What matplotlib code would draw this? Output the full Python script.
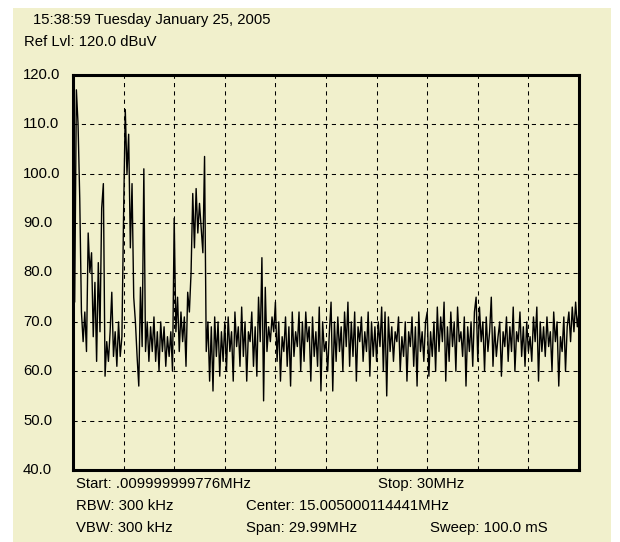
import matplotlib.pyplot as plt
import numpy as np
from matplotlib.patches import Rectangle
from matplotlib.transforms import blended_transform_factory

# Sweep settings (MHz)
start_mhz = 0.0
stop_mhz = 30.0
step_mhz = 0.1

# Trace amplitude (dBuV), one value per 0.1 MHz
trace_0_3 = [94, 74, 117, 110, 95, 72, 66, 72, 64, 88,
             80, 84, 67, 78, 62, 82, 68, 93, 98, 59,
             66, 62, 68, 76, 63, 68, 61, 70, 63, 67]
trace_3_6 = [92, 113, 100, 108, 85, 98, 75, 70, 63, 57,
             77, 65, 101, 64, 70, 62, 69, 64, 71, 62,
             68, 60, 70, 64, 69, 61, 67, 63, 68, 60]
trace_6_9 = [91, 68, 75, 64, 72, 66, 71, 61, 76, 72,
             80, 96, 85, 97, 88, 94, 89, 84, 103.5, 64,
             70, 58, 69, 56, 71, 63, 70, 59, 68, 62]
trace_9_12 = [70, 60, 71, 64, 68, 58, 72, 65, 69, 61,
              73, 63, 70, 58, 68, 66, 72, 61, 69, 59,
              75, 66, 83, 54, 77, 64, 69, 66, 71, 68]
trace_12_15 = [74, 62, 70, 58, 67, 64, 71, 61, 69, 57,
               72, 63, 68, 65, 72, 60, 70, 62, 72, 66,
               69, 58, 71, 63, 68, 61, 73, 56, 70, 64]
trace_15_18 = [66, 60, 68, 74, 56, 70, 62, 71, 64, 69,
               60, 72, 65, 74, 61, 70, 63, 72, 58, 69,
               66, 71, 62, 68, 64, 72, 59, 70, 63, 69]
trace_18_21 = [62, 70, 65, 73, 60, 72, 55, 71, 64, 69,
               62, 68, 66, 71, 60, 67, 63, 70, 58, 68,
               65, 71, 61, 69, 57, 72, 64, 68, 62, 70]
trace_21_24 = [72, 59, 68, 63, 70, 60, 73, 64, 71, 66,
               74, 58, 69, 62, 72, 65, 70, 60, 73, 66,
               68, 63, 71, 57, 69, 64, 70, 61, 72, 75]
trace_24_27 = [62, 73, 66, 70, 60, 71, 64, 68, 75, 61,
               69, 63, 67, 70, 59, 68, 65, 71, 62, 69,
               64, 73, 60, 68, 66, 72, 63, 69, 61, 70]
trace_27_30 = [64, 67, 62, 71, 66, 73, 58, 70, 64, 69,
               63, 71, 65, 68, 60, 72, 66, 70, 57, 67,
               64, 71, 60, 69, 72, 66, 73, 68, 74, 69, 72]

amplitude = np.array(trace_0_3 + trace_3_6 + trace_6_9 + trace_9_12 + trace_12_15
                     + trace_15_18 + trace_18_21 + trace_21_24 + trace_24_27 + trace_27_30)
freq = np.arange(len(amplitude)) * step_mhz + start_mhz

# Axis ticks
x_ticks = np.arange(0, 31, 3)
y_ticks = [40, 50, 60, 70, 80, 90, 100, 110, 120]

# Screen text
header_lines = ["15:38:59 Tuesday January 25, 2005", "Ref Lvl: 120.0 dBuV"]
footer_text = [
    ("Start: .009999999776MHz", 76, 484),
    ("Stop: 30MHz", 378, 484),
    ("RBW: 300 kHz", 76, 506),
    ("Center: 15.005000114441MHz", 246, 506),
    ("VBW: 300 kHz", 76, 528),
    ("Span: 29.99MHz", 246, 528),
    ("Sweep: 100.0 mS", 430, 528),
]

beige = '#f1f0cc'
W, H = 620, 542
plt.rcParams['font.family'] = ['Liberation Sans', 'DejaVu Sans']
fsize = 10.7

fig = plt.figure(figsize=(W / 100, H / 100), dpi=100, facecolor='white')
# beige instrument panel behind everything
fig.patches.append(Rectangle((13 / W, 0), 598 / W, 1 - 8 / H, transform=fig.transFigure,
                             facecolor=beige, edgecolor='none', zorder=-10))

ax = fig.add_axes([73 / W, 1 - 470 / H, 506 / W, 395 / H])
ax.set_zorder(1)
ax.set_facecolor(beige)
ax.plot(freq, amplitude, color='black', linewidth=1.0)

ax.set_xlim(start_mhz, stop_mhz)
ax.set_ylim(40, 120)
ax.set_xticks(x_ticks)
ax.set_yticks(y_ticks)
ax.tick_params(length=0, labelbottom=False, labelleft=False)
ax.grid(True, color='black', linestyle=(0, (4, 4)), linewidth=0.75)
for s in ax.spines.values():
    s.set_linewidth(2.2)
    s.set_color('black')

# left-aligned level labels
trans = blended_transform_factory(fig.transFigure, ax.transData)
for v in y_ticks:
    ax.text(23 / W, v, f"{v:.1f}", transform=trans, ha='left', va='center',
            fontsize=fsize, clip_on=False)

fig.text(33 / W, 1 - 20 / H, header_lines[0], ha='left', va='center', fontsize=fsize)
fig.text(24 / W, 1 - 42 / H, header_lines[1], ha='left', va='center', fontsize=fsize)
for txt, x, y in footer_text:
    fig.text(x / W, 1 - y / H, txt, ha='left', va='center', fontsize=fsize)

fig.savefig('out.png', dpi=100, facecolor='white')
